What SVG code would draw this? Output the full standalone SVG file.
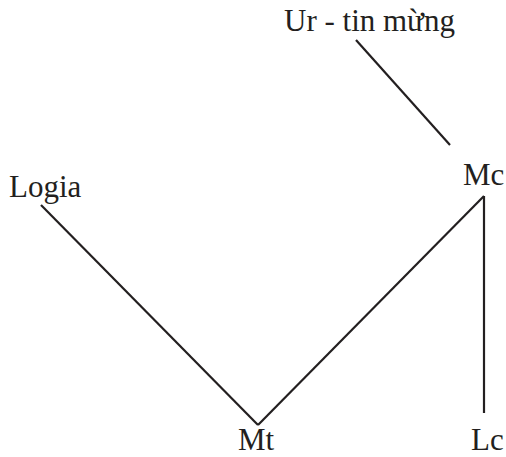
<svg xmlns="http://www.w3.org/2000/svg" width="506" height="457" viewBox="0 0 506 457">
<style>
text{font-family:"Liberation Serif","Times New Roman",serif;font-size:31px;fill:#231f20}
.c line{stroke:#231f20;stroke-width:2.2;fill:none}
</style>
<rect width="506" height="457" fill="#fff"/>
<g class="c" id="connectors">
<line x1="356" y1="40" x2="450" y2="145"/>
<line x1="41" y1="205" x2="258" y2="425"/>
<line x1="484" y1="196" x2="258" y2="425"/>
<line x1="484" y1="196" x2="484" y2="413"/>
</g>
<g id="ur"><text x="284" y="31">Ur - tin mừng</text></g>
<g id="mc"><text x="463" y="185">Mc</text></g>
<g id="logia"><text x="9" y="197">Logia</text></g>
<g id="mt"><text x="238" y="450">Mt</text></g>
<g id="lc"><text x="471" y="450">Lc</text></g>
</svg>
